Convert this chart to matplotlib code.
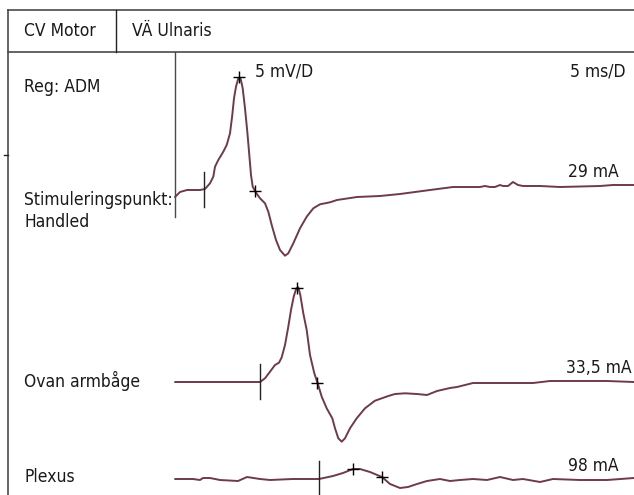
import numpy as np
import matplotlib
matplotlib.use("Agg")
import matplotlib.pyplot as plt
from matplotlib import font_manager
from matplotlib.font_manager import FontProperties

W, H = 634, 495

# --- data: (time ms, amplitude mV relative to trace baseline) ---
handled = [(0.0, -0.7), (0.5, -0.2), (1.2, 0.0), (2.5, 0.0), (3.0, 0.1), (3.5, 0.67),
           (3.83, 1.33), (4.0, 2.33), (4.33, 3.0), (4.83, 3.83), (5.17, 4.5),
           (5.5, 5.67), (5.73, 7.5), (5.9, 9.17), (6.1, 10.33), (6.33, 11.17),
           (6.57, 11.1), (6.77, 10.17), (7.0, 8.17), (7.23, 5.83), (7.43, 3.5),
           (7.6, 1.5), (7.77, 0.33), (8.1, -0.27), (8.5, -0.83), (9.0, -1.33),
           (9.33, -2.17), (9.67, -3.5), (10.1, -5.0), (10.5, -6.0), (11.0, -6.57),
           (11.33, -6.33), (11.83, -5.33), (12.5, -3.83), (13.17, -2.67),
           (13.83, -1.83), (14.5, -1.43), (15.5, -1.23), (16.2, -1.0), (18.2, -0.7),
           (20.5, -0.6), (22.5, -0.4), (25.5, 0.0), (27.8, 0.3), (30.5, 0.3),
           (31.0, 0.4), (31.5, 0.3), (32.0, 0.3), (32.5, 0.5), (32.8, 0.4),
           (33.3, 0.4), (33.8, 0.8), (34.3, 0.5), (34.8, 0.4), (36.5, 0.4),
           (38.5, 0.3), (42.5, 0.4), (43.8, 0.5), (45.9, 0.5)]

ovan = [(0.0, 0.0), (8.5, 0.0), (9.0, 0.37), (9.5, 1.03), (10.0, 1.7), (10.4, 1.93),
        (10.67, 2.47), (11.0, 3.7), (11.33, 5.53), (11.6, 7.2), (11.87, 8.53),
        (12.13, 9.37), (12.33, 9.47), (12.53, 8.7), (12.83, 6.87), (13.17, 5.2),
        (13.5, 2.7), (13.93, 0.87), (14.27, -0.13), (14.67, -1.47), (15.17, -2.63),
        (15.73, -3.63), (16.0, -4.63), (16.33, -5.63), (16.67, -5.97), (17.0, -5.63),
        (17.5, -4.63), (18.17, -3.63), (19.0, -2.63), (20.0, -1.87), (21.33, -1.4),
        (22.0, -1.2), (23.0, -1.13), (24.2, -1.2), (25.2, -1.3), (26.2, -0.9),
        (27.5, -0.6), (28.2, -0.5), (29.8, -0.1), (31.5, -0.1), (35.8, -0.1),
        (37.5, 0.1), (43.2, 0.1), (45.9, 0.0)]

plexus = [(0.0, 0.0), (1.8, 0.0), (2.5, -0.1), (2.8, 0.1), (3.5, 0.1), (4.5, -0.1),
          (6.3, -0.2), (7.2, 0.2), (8.5, 0.0), (9.5, -0.1), (11.8, 0.0), (14.4, 0.0),
          (15.8, 0.3), (16.8, 0.6), (17.8, 1.0), (18.5, 1.0), (19.5, 0.7),
          (20.7, 0.2), (21.5, -0.5), (22.5, -0.9), (23.3, -0.8), (24.2, -0.5),
          (25.2, -0.2), (26.5, 0.0), (27.5, -0.2), (28.5, -0.1), (29.8, 0.0),
          (31.2, -0.1), (32.5, 0.2), (33.8, -0.1), (34.8, 0.0), (36.5, -0.3),
          (37.8, 0.0), (40.5, -0.1), (43.2, -0.1), (45.9, 0.1)]

# cursors: onset (vertical bar), peak (+) and end (+) per trace
onset_t = [2.9, 8.5, 14.4]
peak_t = [6.43, 12.23, 17.8]
peak_v = [11.27, 9.37, 1.0]
end_t = [8.0, 14.23, 20.7]
end_v = [-0.07, -0.13, 0.2]

intensity = ["29 mA", "33,5 mA", "98 mA"]
site_labels = ["Stimuleringspunkt:\nHandled", "Ovan armbåge", "Plexus"]
baseline = [0.0, -19.2, -28.9]   # vertical offset of each trace, mV


# --- font: look for a condensed sans, else plain DejaVu ---
def pick_font():
    prefs = ["Roboto Condensed", "Liberation Sans Narrow", "Noto Sans", "Open Sans",
             "DejaVu Sans", "Roboto"]
    best = None
    for f in font_manager.fontManager.ttflist:
        if f.style != "normal" or f.weight not in (400, "normal", "regular"):
            continue
        st = f.stretch
        if isinstance(st, str):
            st = {"ultra-condensed": 100, "extra-condensed": 200, "condensed": 300,
                  "semi-condensed": 400, "normal": 500}.get(st, 500)
        narrow = ("Condensed" in f.name or "Narrow" in f.name or st <= 300)
        if not narrow:
            continue
        base = f.name.replace(" Condensed", "").replace(" Narrow", "")
        rank = prefs.index(base) if base in prefs else (prefs.index(f.name) if f.name in prefs else 99)
        key = (rank, abs(st - 300))
        if best is None or key < best[0]:
            best = (key, f.fname)
    return best[1] if best else None


fpath = pick_font()
fs = 12.5
if fpath:
    fp = FontProperties(fname=fpath, size=fs)
else:
    fp = FontProperties(family="DejaVu Sans", size=fs)

trace_col = "#6e3b47"
line_col = "#4a4a4a"
txt_col = "#1a1a1a"


def fx(x):
    return x / W


def fy(y):
    return 1 - y / H


fig = plt.figure(figsize=(W / 100, H / 100), dpi=100)
fig.patch.set_facecolor("white")

# frame / header lines in pixel space
frame = fig.add_axes([0, 0, 1, 1])
frame.set_xlim(0, W)
frame.set_ylim(H, 0)
frame.axis("off")
frame.plot([8, 8], [10, H], color=line_col, lw=1.2)
frame.plot([8, W], [10, 10], color=line_col, lw=1.2)
frame.plot([8, W], [52, 52], color=line_col, lw=1.2)
frame.plot([116, 116], [10, 52], color="#222222", lw=1.0)
frame.plot([4, 8], [155, 155], color="#222222", lw=1.0)

# trace axes: ms / mV, 10 px per ms and 10 px per mV
ax = fig.add_axes([0, 0, 1, 1])
ax.set_xlim(-17.5, 45.9)
ax.set_ylim(19.0 - 49.5, 19.0)
ax.axis("off")
ax.patch.set_alpha(0)

ax.plot([0, 0], [19.0 - 5.2, 19.0 - 21.7], color=line_col, lw=1.0)

for i, tr in enumerate([handled, ovan, plexus]):
    b = baseline[i]
    t = np.array([p[0] for p in tr])
    v = np.array([p[1] for p in tr]) + b
    ax.plot(t, v, color=trace_col, lw=1.4, solid_capstyle="round",
            solid_joinstyle="round")
    ax.plot([onset_t[i], onset_t[i]], [b - 1.75, b + 1.75], color="#222222", lw=1.0)
    ax.plot([peak_t[i], end_t[i]], [peak_v[i] + b, end_v[i] + b], "+",
            color="black", ms=9, mew=1.0)

# texts
fig.text(fx(24), fy(31), "CV Motor", fontproperties=fp, va="center", color=txt_col)
fig.text(fx(132), fy(31), "VÄ Ulnaris", fontproperties=fp, va="center", color=txt_col)
fig.text(fx(24), fy(87), "Reg: ADM", fontproperties=fp, va="center", color=txt_col)
fig.text(fx(255), fy(71), "5 mV/D", fontproperties=fp, va="center", color=txt_col)
fig.text(fx(625), fy(71), "5 ms/D", fontproperties=fp, va="center", ha="right",
         color=txt_col)

label_y = [211, 381, 477]
amp_y = [172, 368, 466]
amp_right = [619, 632, 619]
for i in range(3):
    fig.text(fx(24), fy(label_y[i]), site_labels[i], fontproperties=fp, va="center",
             linespacing=1.3, color=txt_col)
    fig.text(fx(amp_right[i]), fy(amp_y[i]), intensity[i], fontproperties=fp,
             va="center", ha="right", color=txt_col)

fig.savefig("out.png", dpi=100)
